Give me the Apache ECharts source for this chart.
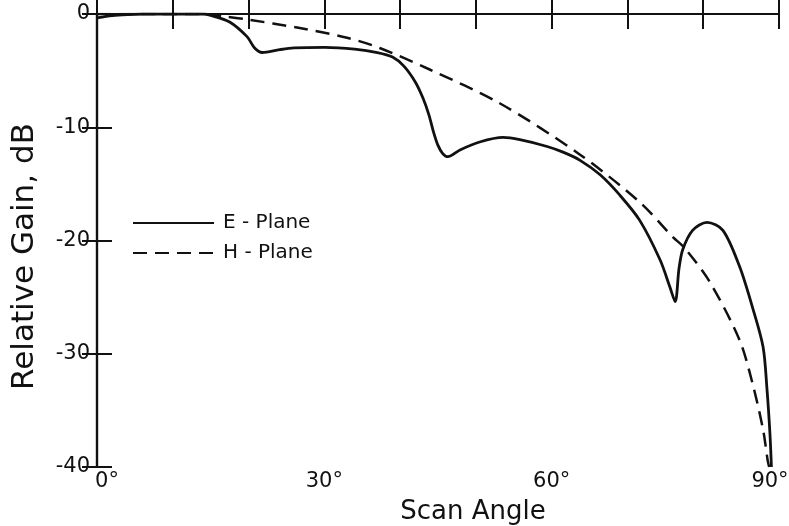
<!DOCTYPE html>
<html>
<head>
<meta charset="utf-8">
<script src="https://cdn.jsdelivr.net/npm/echarts@6/dist/echarts.min.js"></script>
<style>
  html, body { margin: 0; padding: 0; background: #fff; }
  #chart { width: 789px; height: 526px; }
</style>
</head>
<body>
<div id="chart"></div>
<script>
// Relative gain (dB) versus scan angle (degrees)
const ePlane = [
  [0, -0.35], [2, -0.15], [4, -0.05], [6, 0], [10, 0], [14, 0],
  [14.9, -0.1], [17.5, -0.7], [19.8, -2.0], [20.8, -3.0], [21.8, -3.4],
  [24.1, -3.15], [26, -3.0], [30, -2.95], [34, -3.1], [37, -3.4],
  [39, -3.8], [40.5, -4.6], [42, -6.0], [43, -7.4], [43.8, -8.9],
  [44.4, -10.4], [45, -11.6], [45.6, -12.3], [46.3, -12.6], [47.9, -12.0],
  [50.5, -11.3], [53.6, -10.9], [55.8, -11.1], [59.4, -11.7], [61.5, -12.2],
  [63.7, -12.9], [66.4, -14.2], [69, -16.0], [71.6, -18.2], [74.3, -21.7],
  [75.6, -24.1], [76.3, -25.4], [76.8, -22.5], [77.3, -20.8], [78.6, -19.1],
  [80.5, -18.4], [82.6, -19.1], [84.8, -22.3], [86.5, -25.9], [87.9, -29.4],
  [88.4, -33], [88.8, -37], [89, -40]
];
const hPlane = [
  [0, 0], [8, 0], [14, 0], [17.2, -0.26], [20, -0.5], [26.4, -1.2],
  [33, -2.1], [37.3, -3.0], [43.9, -4.9], [53.2, -7.9], [63.7, -12.4],
  [71.6, -16.6], [76, -19.7], [77.6, -20.7], [80.9, -23.7], [84.8, -28.8],
  [86.5, -32.6], [87.9, -36.7], [88.5, -39.4], [88.7, -40]
];
const seriesNames = ['E - Plane', 'H - Plane'];
const xLabelAngles = [0, 30, 60, 90];
const yLabelValues = [0, -10, -20, -30, -40];

const font = 'DejaVu Sans';
const ink = '#111';

const chart = echarts.init(document.getElementById('chart'));

const frameAxis = {
  axisLine: { show: true, lineStyle: { color: ink, width: 2.2 } },
  axisTick: { show: true, inside: true, length: 15, lineStyle: { color: ink, width: 2 } },
  splitLine: { show: false }
};

chart.setOption({
  animation: false,
  backgroundColor: '#fff',
  grid: { left: 97, right: 10, top: 14, bottom: 59, containLabel: false, outerBoundsMode: 'none' },
  legend: {
    orient: 'vertical',
    left: 127,
    top: 208,
    itemWidth: 81,
    itemHeight: 14,
    itemGap: 10,
    data: seriesNames,
    itemStyle: { opacity: 0 },
    textStyle: { fontFamily: font, fontSize: 20, color: ink, padding: [0, 0, 0, 4] }
  },
  xAxis: [
    Object.assign({
      type: 'value', min: 0, max: 90, interval: 10, position: 'bottom',
      name: 'Scan Angle', nameLocation: 'middle', nameGap: 32,
      nameTextStyle: { fontFamily: font, fontSize: 26, color: ink, padding: [0, 0, 0, 70] },
      axisLabel: {
        margin: 4,
        fontFamily: font, fontSize: 21, color: ink,
        formatter: function (v) {
          if (xLabelAngles.indexOf(v) < 0) return '';
          if (v === 0) return '{l|' + v + '°}';
          if (v === 90) return '{r|' + v + '°}';
          return v + '°';
        },
        rich: {
          l: { fontFamily: font, fontSize: 21, color: ink, padding: [0, 0, 0, 20] },
          r: { fontFamily: font, fontSize: 21, color: ink, padding: [0, 18, 0, 0] }
        }
      }
    }, frameAxis),
    Object.assign({
      type: 'value', min: 0, max: 90, interval: 10, position: 'top',
      axisLabel: { show: false }
    }, frameAxis)
  ],
  yAxis: [
    Object.assign({
      type: 'value', min: -40, max: 0, interval: 10, position: 'left',
      name: 'Relative Gain, dB', nameLocation: 'middle', nameGap: 57,
      nameTextStyle: { fontFamily: font, fontSize: 31, color: ink, padding: [0, 32, 0, 0] },
      axisLabel: {
        margin: 7,
        fontFamily: font, fontSize: 21, color: ink,
        formatter: function (v) { return yLabelValues.indexOf(v) >= 0 ? String(v) : ''; }
      }
    }, frameAxis),
    Object.assign({
      type: 'value', min: -40, max: 0, interval: 10, position: 'right',
      axisLabel: { show: false }
    }, frameAxis)
  ],
  series: [
    {
      name: seriesNames[0], type: 'line', data: ePlane,
      symbol: 'none', smooth: 0.3, clip: true,
      lineStyle: { color: ink, width: 2.8, type: 'solid' },
      itemStyle: { color: ink }
    },
    {
      name: seriesNames[1], type: 'line', data: hPlane,
      symbol: 'none', smooth: 0.3, clip: true,
      lineStyle: { color: ink, width: 2.5, type: [14, 8] },
      itemStyle: { color: ink }
    }
  ]
});
</script>
</body>
</html>
